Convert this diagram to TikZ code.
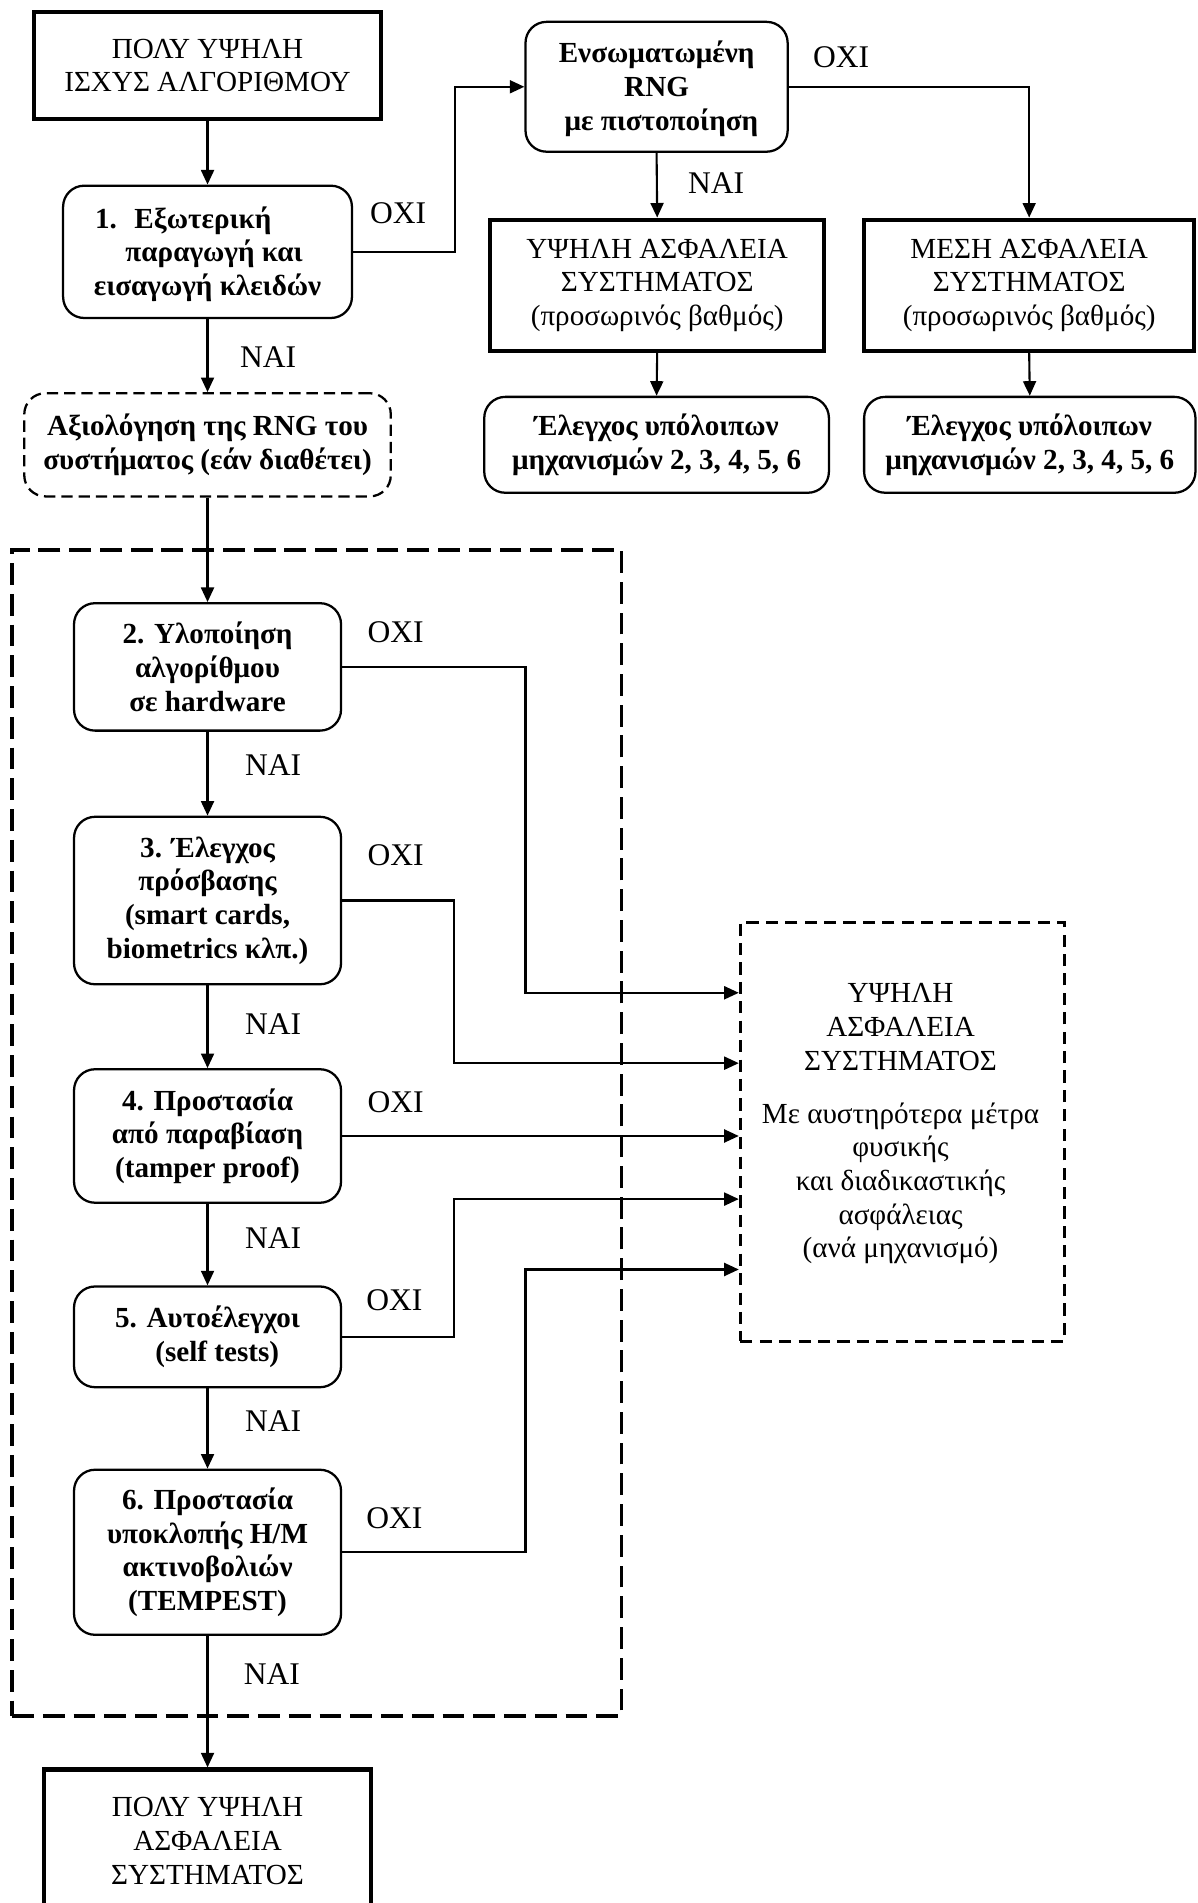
\documentclass[tikz,border=0pt]{standalone}
\usepackage{fontspec}
\setmainfont{Liberation Serif}
\usetikzlibrary{arrows.meta,fit}
\begin{document}
\begin{tikzpicture}[x=0.75pt,y=-0.75pt,
  every node/.style={font=\fontsize{18}{20.8}\selectfont},
  sqbox/.style={draw,line width=2.6pt,inner sep=0pt,align=center},
  rbox/.style={draw,line width=1.4pt,rounded corners=13pt,inner sep=0pt,align=center,font=\fontsize{18}{20.8}\selectfont\bfseries},
  dbox/.style={rbox,dash pattern=on 7pt off 3.7pt},
  grpbox/.style={draw,line width=2.2pt,dash pattern=on 13.5pt off 5.5pt,inner sep=0pt},
  resbox/.style={draw,line width=1.9pt,dash pattern=on 7.5pt off 4.5pt,inner sep=0pt},
  lab/.style={inner sep=0pt,font=\fontsize{19.5}{22}\selectfont},
  conn/.style={line width=1.3pt,-{Triangle[length=9pt,width=8pt]}},
]
\useasboundingbox (0,0) rectangle (987,1568);

% left column
\node[sqbox,minimum width=214.5pt,minimum height=66pt] (top) at (171,54) {ΠΟΛΥ ΥΨΗΛΗ\\ΙΣΧΥΣ ΑΛΓΟΡΙΘΜΟΥ};
\node[rbox,minimum width=178.5pt,minimum height=81.75pt] (b1) at (171,207.5) {\rule{0pt}{16pt}1.\hspace{0.6em}Εξωτερική\hspace*{30pt}\mbox{}\\\hspace*{8pt}παραγωγή και\\εισαγωγή κλειδών};
\node[dbox,minimum width=226.5pt,minimum height=63.75pt] (rng) at (171,366.5) {Αξιολόγηση της RNG του\\συστήματος (εάν διαθέτει)};
\node[grpbox,fit={(10,453) (512,1414)}] (grp) {};
\node[rbox,minimum width=165pt,minimum height=78.75pt] (b2) at (171,549.5) {2. Υλοποίηση\\αλγορίθμου\\σε hardware};
\node[rbox,minimum width=165pt,minimum height=103.5pt] (b3) at (171,742) {3. Έλεγχος\\πρόσβασης\\(smart cards,\\biometrics κλπ.)};
\node[rbox,minimum width=165pt,minimum height=82.5pt] (b4) at (171,936) {4. Προστασία\\από παραβίαση\\(tamper proof)};
\node[rbox,minimum width=165pt,minimum height=62.25pt] (b5) at (171,1101.5) {5. Αυτοέλεγχοι\\\hspace*{12pt}(self tests)};
\node[rbox,minimum width=165pt,minimum height=102pt] (b6) at (171,1279) {6. Προστασία\\υποκλοπής Η/Μ\\ακτινοβολιών\\(TEMPEST)};
\node[sqbox,minimum width=202.5pt,minimum height=88.5pt] (bot) at (171,1517) {ΠΟΛΥ ΥΨΗΛΗ\\ΑΣΦΑΛΕΙΑ\\ΣΥΣΤΗΜΑΤΟΣ};

% top right
\node[rbox,minimum width=162pt,minimum height=80.25pt] (enso) at (541,71.5) {\rule{0pt}{16pt}Ενσωματωμένη\\RNG\\\hspace*{6pt}με πιστοποίηση};
\node[sqbox,minimum width=206.25pt,minimum height=81pt] (ypsili) at (541.5,235) {ΥΨΗΛΗ ΑΣΦΑΛΕΙΑ\\ΣΥΣΤΗΜΑΤΟΣ\\(προσωρινός βαθμός)};
\node[sqbox,minimum width=204pt,minimum height=81pt] (mesi) at (848,235) {ΜΕΣΗ ΑΣΦΑΛΕΙΑ\\ΣΥΣΤΗΜΑΤΟΣ\\(προσωρινός βαθμός)};
\node[rbox,minimum width=213pt,minimum height=59.25pt] (e1) at (541,366.5) {Έλεγχος υπόλοιπων\\μηχανισμών 2, 3, 4, 5, 6};
\node[rbox,minimum width=204.75pt,minimum height=59.25pt] (e2) at (848.5,366.5) {Έλεγχος υπόλοιπων\\μηχανισμών 2, 3, 4, 5, 6};

% right result box
\node[resbox,fit={(610,760) (877,1105)}] (rb) {};
\node[inner sep=0pt,align=center] (rbt) at (742,926) {ΥΨΗΛΗ\\ΑΣΦΑΛΕΙΑ\\ΣΥΣΤΗΜΑΤΟΣ\\[12pt]Με αυστηρότερα μέτρα\\φυσικής\\και διαδικαστικής\\ασφάλειας\\(ανά μηχανισμό)};

% labels
\node[lab] (o1) at (328,176) {ΟΧΙ};
\node[lab] (n1) at (221,294) {ΝΑΙ};
\node[lab] (o2) at (326,521) {ΟΧΙ};
\node[lab] (n2) at (225,630) {ΝΑΙ};
\node[lab] (o3) at (326,705) {ΟΧΙ};
\node[lab] (n3) at (225,844) {ΝΑΙ};
\node[lab] (o4) at (326,908) {ΟΧΙ};
\node[lab] (n4) at (225,1020) {ΝΑΙ};
\node[lab] (o5) at (325,1071) {ΟΧΙ};
\node[lab] (n5) at (225,1171) {ΝΑΙ};
\node[lab] (o6) at (325,1251) {ΟΧΙ};
\node[lab] (n6) at (224,1379) {ΝΑΙ};
\node[lab] (o7) at (693,47) {ΟΧΙ};
\node[lab] (n7) at (590,151) {ΝΑΙ};

% helper coordinates
\coordinate (j1) at (375,0);
\coordinate (xA) at (433,0);
\coordinate (xB) at (374,0);
\coordinate (t1) at (0,818);
\coordinate (t2) at (0,876);
\coordinate (t4) at (0,988);
\coordinate (t5) at (0,1046);

% connectors
\draw[conn] (top.south) -- (b1.north);
\draw[conn] (b1.south) -- (rng.north);
\draw[conn] (rng.south) -- (b2.north);
\draw[conn] (b2.south) -- (b3.north);
\draw[conn] (b3.south) -- (b4.north);
\draw[conn] (b4.south) -- (b5.north);
\draw[conn] (b5.south) -- (b6.north);
\draw[conn] (b6.south) -- (bot.north);

\draw[conn] (b1.east) -- (b1.east -| j1) -- (j1 |- enso.west) -- (enso.west);
\draw[conn] (enso.east) -| (mesi.north);
\draw[conn] (enso.south) -- (ypsili.north);
\draw[conn] (ypsili.south) -- (e1.north);
\draw[conn] (mesi.south) -- (e2.north);

\draw[conn] (b2.east) -- (b2.east -| xA) -- (xA |- t1) -- (t1 -| rb.west);
\draw[conn] (b3.east) -- (b3.east -| xB) -- (xB |- t2) -- (t2 -| rb.west);
\draw[conn] (b4.east) -- (b4.east -| rb.west);
\draw[conn] (b5.east) -- (b5.east -| xB) -- (xB |- t4) -- (t4 -| rb.west);
\draw[conn] (b6.east) -- (b6.east -| xA) -- (xA |- t5) -- (t5 -| rb.west);
\end{tikzpicture}
\end{document}
